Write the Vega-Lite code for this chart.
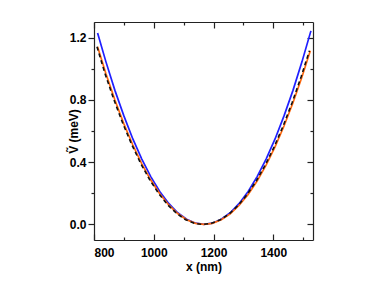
{
  "$schema": "https://vega.github.io/schema/vega-lite/v6.json",
  "autosize": "none",
  "width": 219,
  "height": 218,
  "padding": {"left": 94, "top": 22, "right": 61, "bottom": 54},
  "background": "white",
  "config": {
    "view": {"stroke": null},
    "axis": {
      "labelFont": "Liberation Sans",
      "labelFontWeight": "bold",
      "labelFontSize": 12,
      "labelColor": "#000",
      "titleFont": "Liberation Sans",
      "titleFontWeight": "bold",
      "titleFontSize": 12,
      "titleColor": "#000",
      "domainColor": "#222",
      "tickColor": "#222",
      "domainWidth": 1.2,
      "tickWidth": 1.2,
      "grid": false,
      "labelOverlap": false
    }
  },
  "datasets": {
    "main": [
      {"x": 812, "v": 1.229, "s": "blue"},
      {"x": 840, "v": 1.044, "s": "blue"},
      {"x": 870, "v": 0.861, "s": "blue"},
      {"x": 900, "v": 0.697, "s": "blue"},
      {"x": 930, "v": 0.549, "s": "blue"},
      {"x": 960, "v": 0.42, "s": "blue"},
      {"x": 990, "v": 0.307, "s": "blue"},
      {"x": 1020, "v": 0.212, "s": "blue"},
      {"x": 1050, "v": 0.135, "s": "blue"},
      {"x": 1080, "v": 0.075, "s": "blue"},
      {"x": 1110, "v": 0.033, "s": "blue"},
      {"x": 1140, "v": 0.008, "s": "blue"},
      {"x": 1168, "v": 0.0, "s": "blue"},
      {"x": 1196, "v": 0.008, "s": "blue"},
      {"x": 1226, "v": 0.033, "s": "blue"},
      {"x": 1256, "v": 0.075, "s": "blue"},
      {"x": 1286, "v": 0.135, "s": "blue"},
      {"x": 1316, "v": 0.212, "s": "blue"},
      {"x": 1346, "v": 0.307, "s": "blue"},
      {"x": 1376, "v": 0.42, "s": "blue"},
      {"x": 1406, "v": 0.549, "s": "blue"},
      {"x": 1436, "v": 0.697, "s": "blue"},
      {"x": 1466, "v": 0.861, "s": "blue"},
      {"x": 1496, "v": 1.044, "s": "blue"},
      {"x": 1526, "v": 1.243, "s": "blue"},
      {"x": 812, "v": 1.141, "s": "orange"},
      {"x": 840, "v": 0.968, "s": "orange"},
      {"x": 870, "v": 0.799, "s": "orange"},
      {"x": 900, "v": 0.646, "s": "orange"},
      {"x": 930, "v": 0.51, "s": "orange"},
      {"x": 960, "v": 0.389, "s": "orange"},
      {"x": 990, "v": 0.285, "s": "orange"},
      {"x": 1020, "v": 0.197, "s": "orange"},
      {"x": 1050, "v": 0.125, "s": "orange"},
      {"x": 1080, "v": 0.07, "s": "orange"},
      {"x": 1110, "v": 0.03, "s": "orange"},
      {"x": 1140, "v": 0.007, "s": "orange"},
      {"x": 1168, "v": 0.0, "s": "orange"},
      {"x": 1196, "v": 0.007, "s": "orange"},
      {"x": 1226, "v": 0.03, "s": "orange"},
      {"x": 1256, "v": 0.068, "s": "orange"},
      {"x": 1286, "v": 0.123, "s": "orange"},
      {"x": 1316, "v": 0.193, "s": "orange"},
      {"x": 1346, "v": 0.279, "s": "orange"},
      {"x": 1376, "v": 0.381, "s": "orange"},
      {"x": 1406, "v": 0.498, "s": "orange"},
      {"x": 1436, "v": 0.632, "s": "orange"},
      {"x": 1466, "v": 0.781, "s": "orange"},
      {"x": 1496, "v": 0.947, "s": "orange"},
      {"x": 1524, "v": 1.115, "s": "orange"}
    ],
    "dashed": [
      {"x": 810, "v": 1.141},
      {"x": 837, "v": 0.968},
      {"x": 867, "v": 0.799},
      {"x": 897, "v": 0.646},
      {"x": 927, "v": 0.51},
      {"x": 957, "v": 0.389},
      {"x": 987, "v": 0.285},
      {"x": 1017, "v": 0.197},
      {"x": 1047, "v": 0.125},
      {"x": 1077, "v": 0.07},
      {"x": 1107, "v": 0.03},
      {"x": 1137, "v": 0.007},
      {"x": 1165, "v": 0.0},
      {"x": 1193, "v": 0.007},
      {"x": 1223, "v": 0.03},
      {"x": 1253, "v": 0.068},
      {"x": 1283, "v": 0.123},
      {"x": 1313, "v": 0.193},
      {"x": 1343, "v": 0.279},
      {"x": 1373, "v": 0.381},
      {"x": 1403, "v": 0.498},
      {"x": 1433, "v": 0.632},
      {"x": 1463, "v": 0.781},
      {"x": 1493, "v": 0.947},
      {"x": 1521, "v": 1.115}
    ]
  },
  "resolve": {"axis": {"x": "independent", "y": "independent"}},
  "layer": [
    {
      "data": {"name": "main"},
      "mark": {"type": "line", "strokeWidth": 1.7, "clip": true},
      "encoding": {
        "x": {
          "field": "x", "type": "quantitative",
          "scale": {"domain": [800, 1533], "nice": false, "zero": false},
          "axis": {
            "orient": "bottom",
            "title": "x (nm)",
            "values": [800, 900, 1000, 1100, 1200, 1300, 1400, 1500],
            "format": "d",
            "labelExpr": "datum.value % 200 === 0 ? datum.label : ''",
            "tickSize": {"condition": {"test": "datum.value % 200 === 0", "value": -6}, "value": -3},
            "labelPadding": 13,
            "titlePadding": 0
          }
        },
        "y": {
          "field": "v", "type": "quantitative",
          "scale": {"domain": [-0.1, 1.3], "nice": false, "zero": false},
          "axis": {
            "orient": "left",
            "title": "Ṽ (meV)",
            "values": [0, 0.2, 0.4, 0.6, 0.8, 1.0, 1.2],
            "format": ".1f",
            "labelExpr": "round(datum.value * 10) % 4 === 0 ? datum.label : ''",
            "tickSize": {"condition": {"test": "round(datum.value * 10) % 4 === 0", "value": 6}, "value": 3},
            "labelPadding": 2,
            "titlePadding": -11
          }
        },
        "color": {
          "field": "s", "type": "nominal",
          "scale": {"domain": ["blue", "orange"], "range": ["#1f1fff", "#ff6a10"]},
          "legend": null
        }
      }
    },
    {
      "data": {"name": "dashed"},
      "mark": {"type": "line", "strokeWidth": 1.6, "color": "#111", "strokeDash": [4, 3], "clip": true},
      "encoding": {
        "x": {
          "field": "x", "type": "quantitative",
          "scale": {"domain": [800, 1533], "nice": false, "zero": false},
          "axis": {
            "orient": "top",
            "title": null,
            "values": [800, 900, 1000, 1100, 1200, 1300, 1400, 1500],
            "labels": false,
            "tickSize": {"condition": {"test": "datum.value % 200 === 0", "value": -6}, "value": -3}
          }
        },
        "y": {
          "field": "v", "type": "quantitative",
          "scale": {"domain": [-0.1, 1.3], "nice": false, "zero": false},
          "axis": {
            "orient": "right",
            "title": null,
            "values": [0, 0.2, 0.4, 0.6, 0.8, 1.0, 1.2],
            "labels": false,
            "tickSize": {"condition": {"test": "round(datum.value * 10) % 4 === 0", "value": -6}, "value": -3}
          }
        }
      }
    }
  ]
}
